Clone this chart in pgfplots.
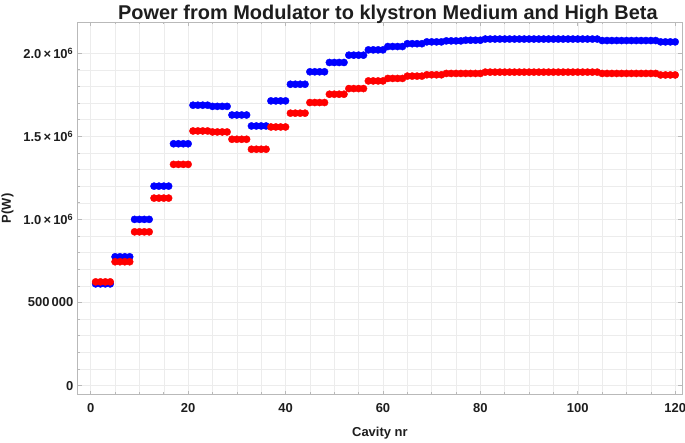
\documentclass[border=0pt]{standalone}
\usepackage{pgfplots}
\pgfplotsset{compat=1.18}
\usepackage{fontspec}
\setmainfont{Liberation Sans}
\definecolor{mblue}{RGB}{0,0,255}
\definecolor{mred}{RGB}{255,0,0}
\definecolor{framegray}{RGB}{185,185,185}
\definecolor{gridgray}{RGB}{236,236,236}
\definecolor{labgray}{RGB}{30,30,30}
\begin{document}
\begin{tikzpicture}
\begin{axis}[
  name=ax,
  scale only axis,
  width=606pt, height=374pt,
  xmin=-2.66, xmax=121.4,
  ymin=-55800, ymax=2188000,
  axis line style={framegray, line width=0.8pt},
  xtick={0,20,40,60,80,100,120},
  xticklabels={0,20,40,60,80,100,120},
  minor x tick num=3,
  ytick={0,500000,1000000,1500000,2000000},
  yticklabels={0,500\,000,1.0\,×\,10\textsuperscript{6},1.5\,×\,10\textsuperscript{6},2.0\,×\,10\textsuperscript{6}},
  minor y tick num=4,
  tick align=inside,
  major tick length=4pt, minor tick length=2.5pt,
  tick style={framegray, line width=0.6pt},
  grid=both,
  major grid style={gridgray, line width=0.5pt},
  minor grid style={gridgray, line width=0.5pt},
  ticklabel style={font=\bfseries\fontsize{13}{15}\selectfont, text=labgray},
  xticklabel style={yshift=-5pt},
  yticklabel style={xshift=-1pt},
  scaled y ticks=false,
  title={\bfseries\fontsize{20}{23}\selectfont Power from Modulator to klystron Medium and High Beta},
  title style={yshift=-11pt, xshift=8pt, text=labgray},
  xlabel={\bfseries\fontsize{13}{15}\selectfont Cavity nr},
  ylabel={\bfseries\fontsize{13}{15}\selectfont P(W)},
  xlabel style={text=labgray, yshift=-8pt},
  ylabel style={text=labgray, yshift=3pt},
  clip=false,
]
\addplot[only marks, mark=*, mark size=3.6pt, color=mblue] coordinates {
(1,612000)(2,612000)(3,612000)(4,612000)
(5,775000)(6,775000)(7,775000)(8,775000)
(9,1000000)(10,1000000)(11,1000000)(12,1000000)
(13,1200000)(14,1200000)(15,1200000)(16,1200000)
(17,1455000)(18,1455000)(19,1455000)(20,1455000)
(21,1687000)(22,1687000)(23,1687000)(24,1687000)
(25,1680000)(26,1680000)(27,1680000)(28,1680000)
(29,1628000)(30,1628000)(31,1628000)(32,1628000)
(33,1562000)(34,1562000)(35,1562000)(36,1562000)
(37,1713000)(38,1713000)(39,1713000)(40,1713000)
(41,1813000)(42,1813000)(43,1813000)(44,1813000)
(45,1888000)(46,1888000)(47,1888000)(48,1888000)
(49,1944000)(50,1944000)(51,1944000)(52,1944000)
(53,1988000)(54,1988000)(55,1988000)(56,1988000)
(57,2020000)(58,2020000)(59,2020000)(60,2020000)
(61,2040000)(62,2040000)(63,2040000)(64,2040000)
(65,2057000)(66,2057000)(67,2057000)(68,2057000)
(69,2068000)(70,2068000)(71,2068000)(72,2068000)
(73,2074000)(74,2074000)(75,2074000)(76,2074000)
(77,2078000)(78,2078000)(79,2078000)(80,2078000)
(81,2085000)(82,2085000)(83,2085000)(84,2085000)
(85,2085000)(86,2085000)(87,2085000)(88,2085000)
(89,2085000)(90,2085000)(91,2085000)(92,2085000)
(93,2085000)(94,2085000)(95,2085000)(96,2085000)
(97,2085000)(98,2085000)(99,2085000)(100,2085000)
(101,2085000)(102,2085000)(103,2085000)(104,2085000)
(105,2076000)(106,2076000)(107,2076000)(108,2076000)
(109,2076000)(110,2076000)(111,2076000)(112,2076000)
(113,2076000)(114,2076000)(115,2076000)(116,2076000)
(117,2068000)(118,2068000)(119,2068000)(120,2068000)
};
\addplot[only marks, mark=*, mark size=3.6pt, color=mred] coordinates {
(1,624000)(2,624000)(3,624000)(4,624000)
(5,745000)(6,745000)(7,745000)(8,745000)
(9,925000)(10,925000)(11,925000)(12,925000)
(13,1128000)(14,1128000)(15,1128000)(16,1128000)
(17,1331000)(18,1331000)(19,1331000)(20,1331000)
(21,1532000)(22,1532000)(23,1532000)(24,1532000)
(25,1526000)(26,1526000)(27,1526000)(28,1526000)
(29,1482000)(30,1482000)(31,1482000)(32,1482000)
(33,1422000)(34,1422000)(35,1422000)(36,1422000)
(37,1556000)(38,1556000)(39,1556000)(40,1556000)
(41,1639000)(42,1639000)(43,1639000)(44,1639000)
(45,1703000)(46,1703000)(47,1703000)(48,1703000)
(49,1753000)(50,1753000)(51,1753000)(52,1753000)
(53,1787000)(54,1787000)(55,1787000)(56,1787000)
(57,1833000)(58,1833000)(59,1833000)(60,1833000)
(61,1848000)(62,1848000)(63,1848000)(64,1848000)
(65,1862000)(66,1862000)(67,1862000)(68,1862000)
(69,1870000)(70,1870000)(71,1870000)(72,1870000)
(73,1878000)(74,1878000)(75,1878000)(76,1878000)
(77,1878000)(78,1878000)(79,1878000)(80,1878000)
(81,1886000)(82,1886000)(83,1886000)(84,1886000)
(85,1886000)(86,1886000)(87,1886000)(88,1886000)
(89,1886000)(90,1886000)(91,1886000)(92,1886000)
(93,1886000)(94,1886000)(95,1886000)(96,1886000)
(97,1886000)(98,1886000)(99,1886000)(100,1886000)
(101,1886000)(102,1886000)(103,1886000)(104,1886000)
(105,1878000)(106,1878000)(107,1878000)(108,1878000)
(109,1878000)(110,1878000)(111,1878000)(112,1878000)
(113,1878000)(114,1878000)(115,1878000)(116,1878000)
(117,1869000)(118,1869000)(119,1869000)(120,1869000)
};
\end{axis}
\pgfresetboundingbox
\path ([shift={(-78pt,-48pt)}]ax.south west) rectangle ([shift={(3pt,22pt)}]ax.north east);
\end{tikzpicture}
\end{document}
